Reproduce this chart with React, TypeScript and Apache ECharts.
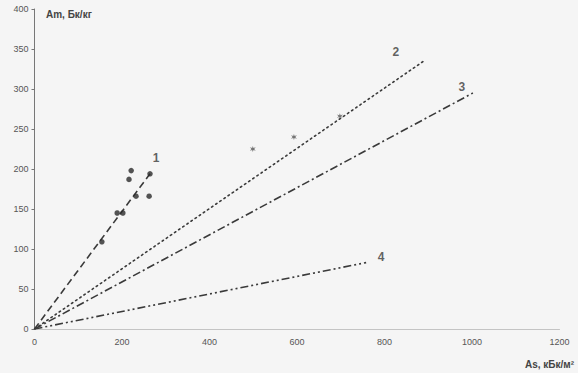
import React, { useEffect, useRef } from "react";
import * as echarts from "echarts";

const lineNames = ["1", "2", "3", "4"];
const lineEnds = [
  [264, 194],
  [890, 335],
  [1002, 295],
  [758, 83],
];
const dotPoints = [
  [154, 109],
  [189, 145],
  [202, 145],
  [216, 187],
  [221, 198],
  [232, 166],
  [262, 166],
  [264, 194],
];
const starPoints = [
  [499, 225],
  [593, 240],
  [698, 266],
];
const xTicks = [0, 200, 400, 600, 800, 1000, 1200];
const yTicks = [0, 50, 100, 150, 200, 250, 300, 350, 400];
const yTitle = "Am, Бк/кг";
const xTitle = "As, кБк/м²";

const dashes = [[7, 4], [1.5, 3.5], [8, 3, 2, 3], [8, 3, 2, 3, 2, 3]];
const labelOffsets = [[6, -16], [-28, -9], [-11, -6], [15, -6]];

const starPath =
  "path://M0,-5L1,-1.5L4.5,-3L2,0L4.5,3L1,1.5L0,5L-1,1.5L-4.5,3L-2,0L-4.5,-3L-1,-1.5Z";

export default function App() {
  const ref = useRef<HTMLDivElement>(null);
  useEffect(() => {
    if (!ref.current) return;
    const chart = echarts.init(ref.current, null, { renderer: "svg" });
    const ink = "#3a3a3a";
    const lineSeries = lineEnds.map((end, i) => ({
      type: "line",
      data: [[0, 0], end],
      symbol: "none",
      lineStyle: { color: ink, width: 1.6, type: dashes[i], cap: i === 1 ? "round" : "butt" },
      z: 2,
    }));
    const labelSeries = lineEnds.map((end, i) => ({
      type: "scatter",
      data: [end],
      symbolSize: 0,
      label: {
        show: true,
        formatter: lineNames[i],
        position: "inside",
        offset: labelOffsets[i],
        color: ink,
        fontSize: 12,
        fontWeight: "bold",
        fontFamily: "Liberation Sans, Arial, sans-serif",
      },
      z: 4,
    }));
    chart.setOption({
      animation: false,
      backgroundColor: "#f5f5f5",
      grid: { left: 34.5, right: 18.5, top: 9, bottom: 44 },
      xAxis: {
        type: "value",
        min: xTicks[0],
        max: xTicks[xTicks.length - 1],
        interval: 200,
        splitLine: { show: false },
        axisLine: { show: true, onZero: false, lineStyle: { color: "#c4c4c4", width: 1 } },
        axisTick: { show: false },
        axisLabel: {
          color: "#555",
          fontSize: 9,
          margin: 8,
          formatter: (v: number) => String(v),
          fontFamily: "Liberation Sans Narrow, Liberation Sans, Arial, sans-serif",
        },
      },
      yAxis: {
        type: "value",
        min: yTicks[0],
        max: yTicks[yTicks.length - 1],
        interval: 50,
        splitLine: { show: false },
        axisLine: { show: true, lineStyle: { color: "#777", width: 1 } },
        axisTick: { show: true, length: 3, inside: false, lineStyle: { color: "#777" } },
        axisLabel: {
          color: "#555",
          fontSize: 9,
          margin: 6,
          formatter: (v: number) => String(v),
          fontFamily: "Liberation Sans Narrow, Liberation Sans, Arial, sans-serif",
        },
      },
      graphic: [
        {
          type: "text",
          left: 46,
          top: 9,
          style: {
            text: yTitle,
            fill: "#444",
            font: "bold 10px 'Liberation Sans', Arial, sans-serif",
          },
        },
        {
          type: "text",
          right: 4,
          top: 359,
          style: {
            text: xTitle,
            fill: "#444",
            font: "bold 10px 'Liberation Sans', Arial, sans-serif",
          },
        },
      ],
      series: [
        ...lineSeries,
        {
          type: "scatter",
          data: dotPoints,
          symbol: "circle",
          symbolSize: 5.5,
          itemStyle: { color: "#2a2a2a" },
          z: 3,
        },
        {
          type: "scatter",
          data: starPoints,
          symbol: starPath,
          symbolSize: 6,
          itemStyle: { color: "#555" },
          z: 3,
        },
        ...labelSeries,
      ],
    });
    return () => chart.dispose();
  }, []);
  return (
    <div
      ref={ref}
      style={{ position: "fixed", left: 0, top: 0, width: 578, height: 373 }}
    />
  );
}
